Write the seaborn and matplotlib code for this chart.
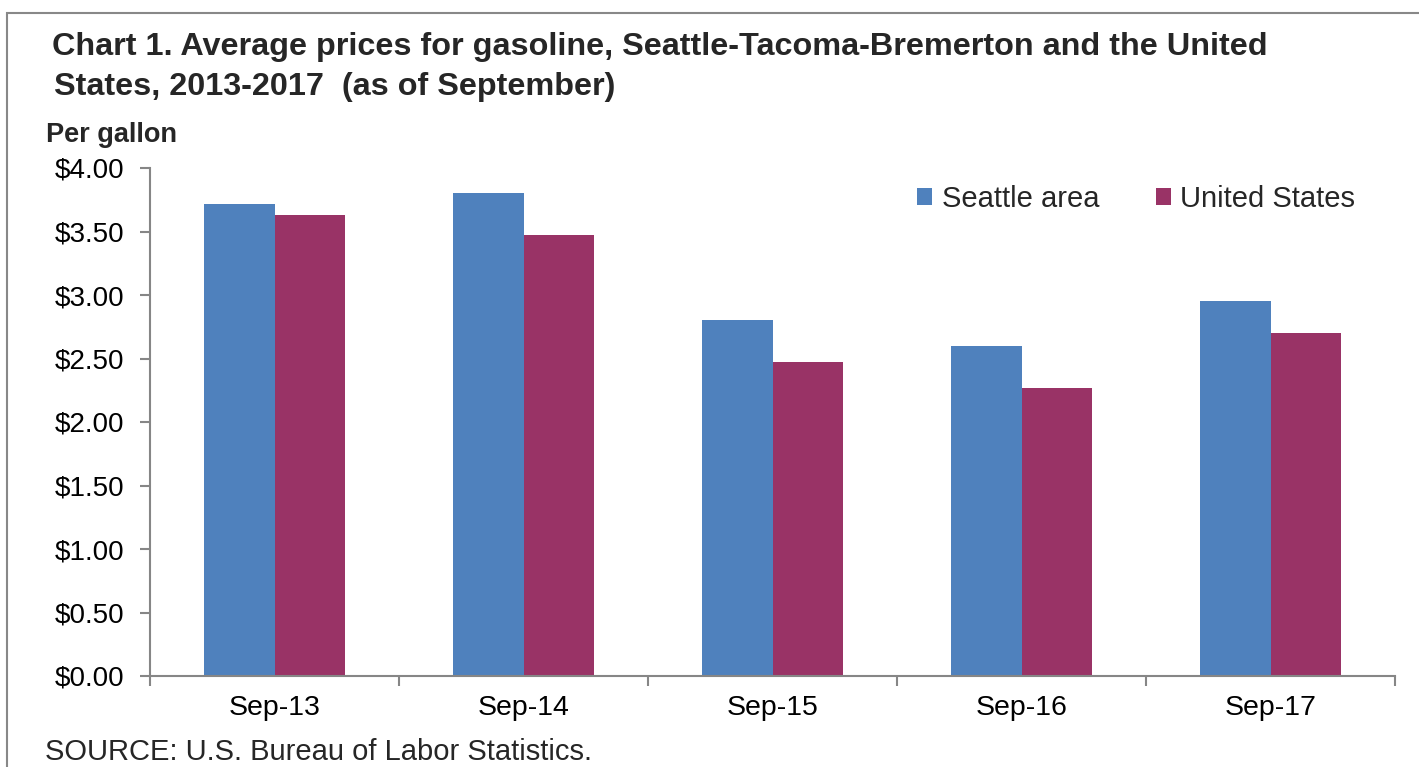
import matplotlib
matplotlib.use("Agg")
import matplotlib.pyplot as plt
from matplotlib.patches import Rectangle
from matplotlib.ticker import FuncFormatter, MultipleLocator, FixedLocator
import seaborn as sns
import pandas as pd

categories = ["Sep-13", "Sep-14", "Sep-15", "Sep-16", "Sep-17"]
seattle = [3.72, 3.80, 2.80, 2.60, 2.95]
united_states = [3.63, 3.47, 2.47, 2.27, 2.70]
series_names = ["Seattle area", "United States"]
colors = ["#4F81BD", "#993366"]

df = pd.DataFrame({
    "month": categories * 2,
    "price": seattle + united_states,
    "series": [series_names[0]] * len(categories) + [series_names[1]] * len(categories),
})

sns.set_theme(style="white")
plt.rcParams["font.family"] = ["Liberation Sans", "DejaVu Sans"]

W, H = 1419, 767
fig = plt.figure(figsize=(W / 100, H / 100), dpi=100)
ax = fig.add_axes([150 / W, 1 - 676 / H, (1395 - 150) / W, (676 - 168) / H])

sns.barplot(data=df, x="month", y="price", hue="series", palette=colors,
            width=0.57, gap=0, saturation=1, ax=ax, legend=True,
            edgecolor="none", linewidth=0)

ax.set_xlim(-0.5, len(categories) - 0.5)
ax.set_ylim(0, 4.0)
ax.yaxis.set_major_locator(MultipleLocator(0.5))
ax.yaxis.set_major_formatter(FuncFormatter(lambda v, p: f"${v:.2f}"))
ax.set_xlabel("")
ax.set_ylabel("")

for s in ["top", "right"]:
    ax.spines[s].set_visible(False)
for s in ["left", "bottom"]:
    ax.spines[s].set_color("#868686")
    ax.spines[s].set_linewidth(1.5)

ax.tick_params(axis="y", which="major", direction="out", length=7, width=1.5,
               color="#868686", left=True, labelsize=20, pad=11.5, labelcolor="black")
ax.tick_params(axis="x", which="major", length=0, labelsize=20.5, pad=14, labelcolor="black")
ax.xaxis.set_minor_locator(FixedLocator([i - 0.5 for i in range(len(categories) + 1)]))
ax.tick_params(axis="x", which="minor", direction="out", length=7, width=1.5,
               color="#868686", bottom=True)

handles, labels = ax.get_legend_handles_labels()
ax.legend(handles, labels, ncol=2, frameon=False, loc="center left",
          bbox_to_anchor=(917 / W, 1 - 199 / H), bbox_transform=fig.transFigure,
          fontsize=21, handlelength=0.52, handleheight=0.52, handletextpad=0.32,
          columnspacing=1.95, borderaxespad=0, borderpad=0)

fig.text(52 / W, 1 - 47 / H,
         "Chart 1. Average prices for gasoline, Seattle-Tacoma-Bremerton and the United",
         fontsize=23.3, fontweight="bold", va="center", ha="left")
fig.text(54 / W, 1 - 87 / H, "States, 2013-2017  (as of September)",
         fontsize=23.3, fontweight="bold", va="center", ha="left")
fig.text(46 / W, 1 - 135 / H, "Per gallon", fontsize=19.5, fontweight="bold",
         va="center", ha="left")
fig.text(45 / W, 1 - 752 / H, "SOURCE: U.S. Bureau of Labor Statistics.",
         fontsize=21, va="center", ha="left")

fig.patches.append(Rectangle((7 / W, -0.1), 2.0, 1.1 - 13 / H,
                             transform=fig.transFigure, fill=False,
                             edgecolor="#888888", linewidth=1.5))

fig.savefig("out.png", dpi=100)
